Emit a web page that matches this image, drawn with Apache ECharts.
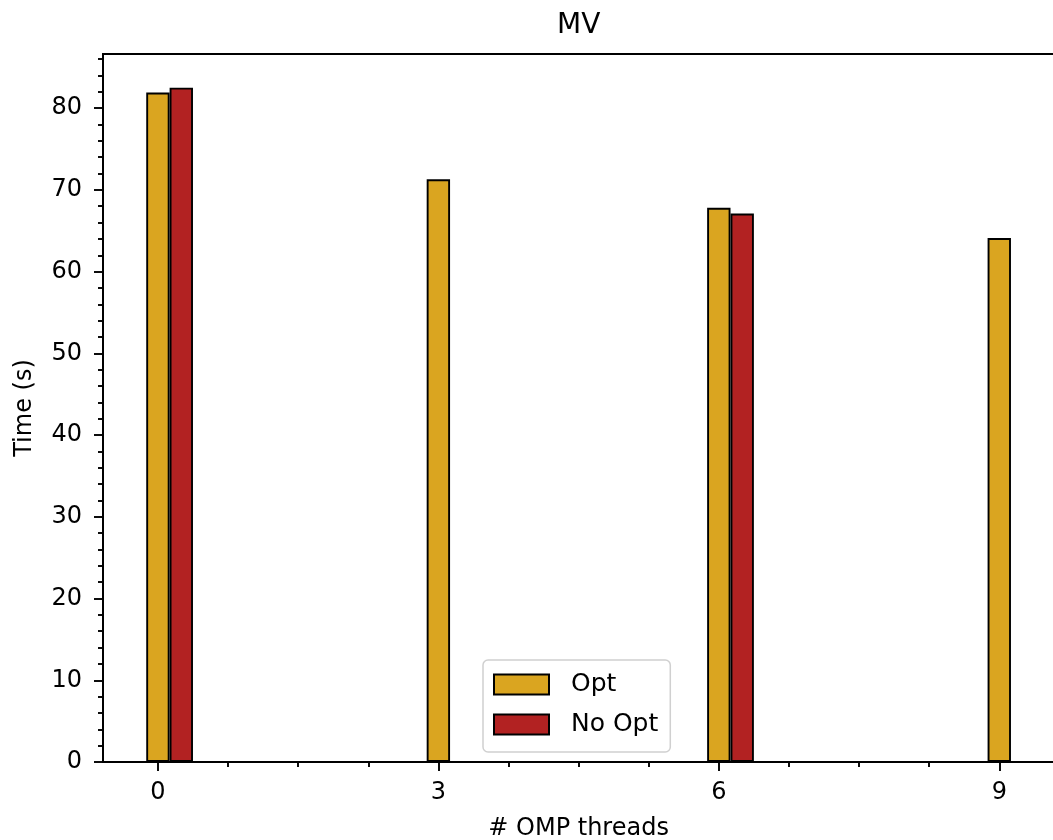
<!DOCTYPE html>
<html>
<head>
<meta charset="utf-8">
<script src="https://cdn.jsdelivr.net/npm/echarts@6/dist/echarts.min.js"></script>
<style>
  html, body { margin: 0; padding: 0; background: #fff; }
  #chart { width: 1053px; height: 840px; }
</style>
</head>
<body>
<div id="chart"></div>
<script>
// ---- data ----
const title = 'MV';
const xName = '# OMP threads';
const yName = 'Time (s)';
const optThreads = [0, 3, 6, 9];
const optTimes = [81.9, 71.3, 67.8, 64.1];
const noOptThreads = [0, 6];
const noOptTimes = [82.5, 67.1];
const noOptOffset = 0.25; // matplotlib bar shifted by one bar width
const xMajorTicks = [0, 3, 6, 9];
const xMinorTicks = [0.75, 1.5, 2.25, 3.75, 4.5, 5.25, 6.75, 7.5, 8.25];
const yMajorTicks = [0, 10, 20, 30, 40, 50, 60, 70, 80];
const yMinorTicks = [2, 4, 6, 8, 12, 14, 16, 18, 22, 24, 26, 28, 32, 34, 36, 38,
  42, 44, 46, 48, 52, 54, 56, 58, 62, 64, 66, 68, 72, 74, 76, 78, 82, 84, 86];
const xMin = -0.5875, xMax = 9.5875;
const yMin = 0, yMax = 86.625;

const FONT = 'DejaVu Sans';
const LW = 1.9;
const gridLeft = 103, gridRight = -1.2, gridTop = 54, gridBottom = 78;
const pxPerUnit = (1053 - gridLeft - gridRight) / (xMax - xMin);
const barW = 0.25 * pxPerUnit;

const chart = echarts.init(document.getElementById('chart'), null, { renderer: 'canvas' });

const baseX = { type: 'value', min: xMin, max: xMax, splitLine: { show: false } };
const baseY = { type: 'value', min: yMin, max: yMax, splitLine: { show: false } };

chart.setOption({
  animation: false,
  backgroundColor: '#ffffff',
  textStyle: { fontFamily: FONT },
  title: {
    text: title, left: 552, top: 7,
    textStyle: { fontFamily: FONT, fontSize: 28, fontWeight: 'normal', color: '#000' }
  },
  grid: {
    left: gridLeft, right: gridRight, top: gridTop, bottom: gridBottom,
    containLabel: false, outerBoundsMode: 'none',
    show: true, borderColor: '#000', borderWidth: LW, backgroundColor: 'transparent'
  },
  legend: {
    orient: 'vertical', left: 483, top: 660,
    backgroundColor: '#fff', borderColor: '#d0d0d0', borderWidth: 1.5, borderRadius: 5,
    padding: [12, 12, 15, 10],
    itemWidth: 55, itemHeight: 20, itemGap: 15,
    icon: 'rect',
    textStyle: { fontFamily: FONT, fontSize: 25, color: '#000', padding: [0, 0, 0, 17] },
    data: ['Opt', 'No Opt']
  },
  xAxis: [
    Object.assign({}, baseX, {
      position: 'bottom',
      name: xName, nameLocation: 'middle', nameGap: 55,
      nameTextStyle: { fontFamily: FONT, fontSize: 24, color: '#000' },
      axisLine: { show: true, onZero: false, lineStyle: { color: '#000', width: LW } },
      axisTick: { show: true, length: 9, customValues: xMajorTicks, lineStyle: { color: '#000', width: LW } },
      axisLabel: { show: true, customValues: xMajorTicks, margin: 19, fontFamily: FONT, fontSize: 24, color: '#000' }
    }),
    Object.assign({}, baseX, {
      position: 'bottom',
      axisLine: { show: false, onZero: false },
      axisTick: { show: true, length: 5, customValues: xMinorTicks, lineStyle: { color: '#000', width: LW } },
      axisLabel: { show: false }
    })
  ],
  yAxis: [
    Object.assign({}, baseY, {
      position: 'left',
      name: yName, nameLocation: 'middle', nameGap: 66, nameRotate: 90,
      nameTextStyle: { fontFamily: FONT, fontSize: 24, color: '#000' },
      axisLine: { show: true, onZero: false, lineStyle: { color: '#000', width: LW } },
      axisTick: { show: true, length: 9, customValues: yMajorTicks, lineStyle: { color: '#000', width: LW } },
      axisLabel: { show: true, customValues: yMajorTicks, margin: 21, padding: [6, 0, 0, 0], fontFamily: FONT, fontSize: 24, color: '#000' }
    }),
    Object.assign({}, baseY, {
      position: 'left',
      axisLine: { show: false, onZero: false },
      axisTick: { show: true, length: 5, customValues: yMinorTicks, lineStyle: { color: '#000', width: LW } },
      axisLabel: { show: false }
    })
  ],
  series: [
    {
      name: 'Opt', type: 'bar', xAxisIndex: 0, yAxisIndex: 0,
      barWidth: barW, barGap: '-100%',
      itemStyle: { color: '#DAA520', borderColor: '#000', borderWidth: LW },
      data: optThreads.map((t, i) => [t, optTimes[i]])
    },
    {
      name: 'No Opt', type: 'bar', xAxisIndex: 0, yAxisIndex: 0,
      barWidth: barW, barGap: '-100%',
      itemStyle: { color: '#B22222', borderColor: '#000', borderWidth: LW },
      data: noOptThreads.map((t, i) => [t + noOptOffset, noOptTimes[i]])
    }
  ]
});
</script>
</body>
</html>
